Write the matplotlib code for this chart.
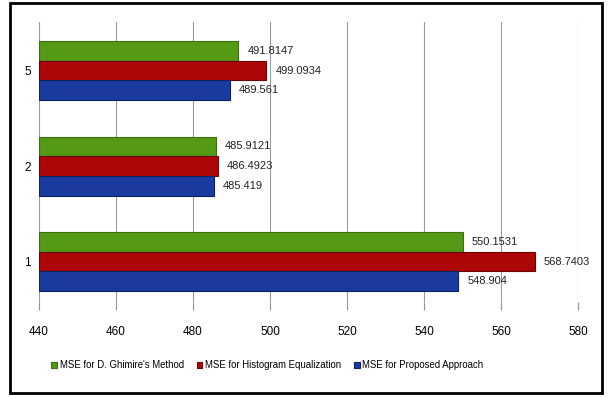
import numpy as np
import matplotlib.pyplot as plt
from matplotlib.patches import Rectangle

''' Data '''
categories = ['1', '2', '5']
ghimire = [550.1531, 485.9121, 491.8147]
histeq = [568.7403, 486.4923, 499.0934]
proposed = [548.904, 485.419, 489.561]
series_names = ["MSE for D. Ghimire's Method",
                'MSE for Histogram Equalization',
                'MSE for Proposed Approach']
colors = ['#549a14', '#ad0606', '#1a3aa0']
edges = ['#3d6e10', '#6e0505', '#0e2260']
xticks = [440, 460, 480, 500, 520, 540, 560, 580]

plt.rcParams['font.family'] = ['Liberation Sans Narrow', 'Liberation Sans', 'DejaVu Sans']

''' Plot '''
fig = plt.figure(figsize=(6.08, 3.98), dpi=100)
ax = fig.add_axes([0.0641, 0.2412, 0.8865, 0.7035])

y = np.arange(len(categories))
h = 0.206
base = xticks[0]
for vals, off, c, ec, name in zip([ghimire, histeq, proposed], [h, 0, -h], colors, edges, series_names):
    ax.barh(y + off, np.array(vals) - base, left=base, height=h, color=c,
            edgecolor=ec, linewidth=0.8, label=name, zorder=3)
    for v, yy in zip(vals, y + off):
        ax.text(v + 2.3, yy, str(v), va='center', ha='left', fontsize=8, color='#222222')

ax.set_xlim(440, 580)
ax.set_ylim(-0.424, 2.508)
ax.set_xticks(xticks)
ax.set_yticks(y)
ax.set_yticklabels(categories)
ax.tick_params(axis='x', length=6, width=0.8, pad=11, labelsize=8.5, color='#909090')
ax.tick_params(axis='y', length=0, pad=6, labelsize=8.5)
ax.grid(axis='x', color='#9a9a9a', linewidth=0.8, zorder=0)
for s in ['top', 'right', 'left', 'bottom']:
    ax.spines[s].set_visible(False)

fig.legend(loc='center', bbox_to_anchor=(0.44, 0.083), ncol=3, frameon=False,
           fontsize=6.9, handlelength=0.6, handleheight=0.6, handletextpad=0.3,
           columnspacing=1.3)

# outer frame
fig.patches.append(Rectangle((0.016, 0.012), 0.974, 0.98, transform=fig.transFigure,
                             fill=False, edgecolor='black', linewidth=2))

fig.savefig('out.png', dpi=100)
